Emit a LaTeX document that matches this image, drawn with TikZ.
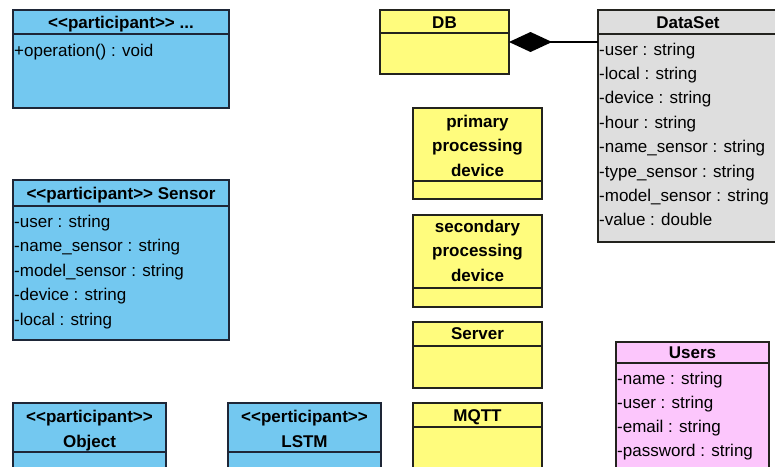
\documentclass[tikz,border=0pt]{standalone}
\usepackage{fontspec}
\setmainfont{Liberation Sans}
\usetikzlibrary{arrows.meta}
\definecolor{clsblue}{RGB}{115,200,240}
\definecolor{clsyellow}{RGB}{255,252,125}
\definecolor{clsgray}{RGB}{222,222,222}
\definecolor{clspink}{RGB}{252,198,252}
\definecolor{edgeblue}{RGB}{30,38,55}
\definecolor{edgedark}{RGB}{35,35,30}
\newcommand\stL{<\kern0pt<}
\newcommand\stR{>\kern0pt>}
\begin{document}
\begin{tikzpicture}[x=1pt,y=-1pt,
  cls/.style={draw, line width=1.6pt, inner sep=0pt, outer sep=0pt, anchor=north west},
  bluecls/.style={cls, fill=clsblue, draw=edgeblue},
  yelcls/.style={cls, fill=clsyellow, draw=edgedark},
  graycls/.style={cls, fill=clsgray, draw=edgedark},
  pinkcls/.style={cls, fill=clspink, draw=edgedark},
  sep/.style={line width=1.6pt},
  hdr/.style={font=\fontsize{17}{24.5}\selectfont\bfseries, inner sep=0pt, anchor=base, align=center},
  attr/.style={font=\fontsize{17}{24.5}\selectfont, inner sep=0pt, anchor=base west}
]
\useasboundingbox (0,0) rectangle (775,466);
\clip (0,0) rectangle (775,466);
\fill[white] (0,0) rectangle (775,466);

% <<participant>> ...
\node[bluecls, minimum width=216pt, minimum height=98pt] (part) at (13,10) {};
\draw[sep, edgeblue] ([yshift=-24pt]part.north west) -- ([yshift=-24pt]part.north east);
\node[hdr] (parth) at (121,28) {\stL participant\stR{} ...};
\node[attr] (parta1) at (14,56) {+operation() : void};

% Sensor
\node[bluecls, minimum width=216pt, minimum height=160pt] (sensor) at (13,180) {};
\draw[sep, edgeblue] ([yshift=-26pt]sensor.north west) -- ([yshift=-26pt]sensor.north east);
\node[hdr] (sensorh) at (121,199) {\stL participant\stR{} Sensor};
\node[attr] (sensora1) at (14,227) {-user : string};
\node[attr] (sensora2) at (14,251.5) {-name\_sensor : string};
\node[attr] (sensora3) at (14,276) {-model\_sensor : string};
\node[attr] (sensora4) at (14,300.5) {-device : string};
\node[attr] (sensora5) at (14,325) {-local : string};

% Object
\node[bluecls, minimum width=153pt, minimum height=90pt] (obj) at (13,403) {};
\draw[sep, edgeblue] ([yshift=-49pt]obj.north west) -- ([yshift=-49pt]obj.north east);
\node[hdr] (objh) at (89.5,447) {\stL participant\stR\\Object};

% LSTM
\node[bluecls, minimum width=153pt, minimum height=90pt] (lstm) at (228,403) {};
\draw[sep, edgeblue] ([yshift=-49pt]lstm.north west) -- ([yshift=-49pt]lstm.north east);
\node[hdr] (lstmh) at (304.5,447) {\stL perticipant\stR\\LSTM};

% DB
\node[yelcls, minimum width=129pt, minimum height=64pt] (db) at (380,10) {};
\draw[sep, edgedark] ([yshift=-23pt]db.north west) -- ([yshift=-23pt]db.north east);
\node[hdr] (dbh) at (444.5,28) {DB};

% primary processing device
\node[yelcls, minimum width=129pt, minimum height=91pt] (pd) at (413,108) {};
\draw[sep, edgedark] ([yshift=-73pt]pd.north west) -- ([yshift=-73pt]pd.north east);
\node[hdr] (pdh) at (477.5,176) {primary\\processing\\device};

% secondary processing device
\node[yelcls, minimum width=129pt, minimum height=92pt] (sd) at (413,215) {};
\draw[sep, edgedark] ([yshift=-73pt]sd.north west) -- ([yshift=-73pt]sd.north east);
\node[hdr] (sdh) at (477.5,281) {secondary\\processing\\device};

% Server
\node[yelcls, minimum width=129pt, minimum height=66pt] (srv) at (413,322) {};
\draw[sep, edgedark] ([yshift=-24pt]srv.north west) -- ([yshift=-24pt]srv.north east);
\node[hdr] (srvh) at (477.5,339) {Server};

% MQTT
\node[yelcls, minimum width=129pt, minimum height=90pt] (mqtt) at (413,403) {};
\draw[sep, edgedark] ([yshift=-24pt]mqtt.north west) -- ([yshift=-24pt]mqtt.north east);
\node[hdr] (mqtth) at (477.5,421) {MQTT};

% DataSet
\node[graycls, minimum width=200pt, minimum height=232pt] (ds) at (598,10) {};
\draw[sep, edgedark] ([yshift=-24pt]ds.north west) -- ([yshift=-24pt]ds.north east);
\node[hdr] (dsh) at (688,28) {DataSet};
\node[attr] (dsa1) at (599,55) {-user : string};
\node[attr] (dsa2) at (599,79.4) {-local : string};
\node[attr] (dsa3) at (599,103.8) {-device : string};
\node[attr] (dsa4) at (599,128.2) {-hour : string};
\node[attr] (dsa5) at (599,152.6) {-name\_sensor : string};
\node[attr] (dsa6) at (599,177) {-type\_sensor : string};
\node[attr] (dsa7) at (599,201.4) {-model\_sensor : string};
\node[attr] (dsa8) at (599,225.8) {-value : double};

% Users
\node[pinkcls, minimum width=153pt, minimum height=140pt] (users) at (616,342) {};
\draw[sep, edgedark] ([yshift=-21pt]users.north west) -- ([yshift=-21pt]users.north east);
\node[hdr] (usersh) at (692.5,358) {Users};
\node[attr] (usersa1) at (617,384) {-name : string};
\node[attr] (usersa2) at (617,408) {-user : string};
\node[attr] (usersa3) at (617,432) {-email : string};
\node[attr] (usersa4) at (617,456) {-password : string};

% composition DB <>-- DataSet
\draw[line width=1.4pt, {Diamond[length=43pt,width=20pt,fill=black]}-] (db.east) -- (db.east -| ds.west);
\end{tikzpicture}
\end{document}
